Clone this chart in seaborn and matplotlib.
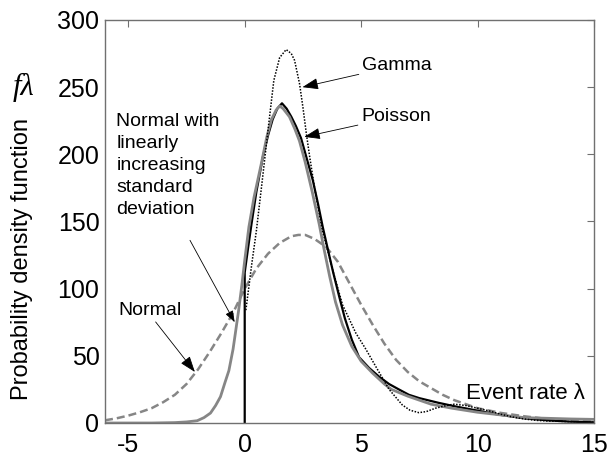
import matplotlib

matplotlib.use("Agg")
import matplotlib.pyplot as plt
import seaborn as sns

# values
NORMAL_X = [-6, -5.5, -5, -4.5, -4, -3.5, -3, -2.5, -2, -1.5, -1, -0.5, 0, 0.5, 1, 1.5, 2, 2.3,
            2.6, 3, 3.5, 4, 4.5, 5, 5.5, 6, 6.5, 7, 7.5, 8, 8.5, 9, 9.5, 10, 11, 12, 13, 14, 15]
NORMAL_Y = [2, 3.5, 5.5, 8, 11, 15.5, 21, 29, 40, 53, 67, 82, 100, 115, 126, 134, 139, 140,
            140, 137, 131, 120, 104, 88, 73, 59, 47, 38, 31, 26, 21, 17, 14, 11, 7.5, 5, 3, 2, 1.5]

NORMAL_LIN_X = [-6, -4, -3, -2.5, -2.04, -1.75, -1.47, -1.25, -1.04, -0.85, -0.68, -0.5, -0.4, -0.26,
                -0.12, 0, 0.18, 0.4, 0.7, 0.95, 1.15, 1.35, 1.5, 1.65, 1.92, 2.15, 2.35, 2.6, 2.9,
                3.2, 3.4, 3.65, 3.9, 4.2, 4.6, 5, 5.5, 6, 6.3, 7, 7.5, 8, 8.9, 10, 11, 12, 13, 14, 15]
NORMAL_LIN_Y = [0, 0, 0.3, 0.8, 1.7, 4, 7.4, 13, 19.6, 30, 39, 55, 67, 84,
                103, 121, 146, 168, 192, 213, 226, 233, 236, 234, 228, 219, 210, 194, 172,
                148, 130, 109, 90, 73, 57, 46, 37, 29, 25, 20, 17, 14, 11, 8, 6, 4, 3.5, 3, 2.7]

POISSON_X = [0, 0, 0.15, 0.29, 0.5, 0.78, 1.0, 1.2, 1.4, 1.6, 1.8, 2.0, 2.2, 2.42, 2.63, 2.92, 3.15,
             3.35, 3.6, 3.8, 4.06, 4.3, 4.6, 4.91, 5.34, 5.77, 6.2, 6.62, 7.05, 7.5, 8.33, 9.0, 9.76,
             10.5, 11, 12, 13, 14, 15]
POISSON_Y = [0, 112, 131, 148, 172, 198, 214, 226, 234, 238, 234, 228, 221, 212, 199, 181, 163,
             146, 127, 112, 94, 78, 62, 49, 41, 34.5, 29, 25, 21, 18.5, 15, 12.5, 10,
             7.5, 6, 3.5, 2, 1, 0.5]

GAMMA_X = [0.05, 0.3, 0.5, 0.75, 1.0, 1.25, 1.5, 1.78, 2.0, 2.14, 2.35, 2.5, 2.65, 2.8, 3.0, 3.33,
           3.76, 4.2, 4.77, 5.2, 5.63, 6.2, 6.77, 7.1, 7.48, 7.8, 8.19, 8.76, 9.0, 9.5, 10, 10.5,
           11, 11.5, 12, 12.5, 13, 14, 15]
GAMMA_Y = [84, 118, 143, 180, 218, 255, 272, 278, 275, 270, 253, 235, 215, 197, 175, 144,
           115, 88, 67, 55, 42, 25, 13.4, 9.5, 7.7, 8.5, 11, 13.4, 14, 13, 11, 9,
           6.5, 4.5, 3, 2, 1.5, 1, 0.5]

X_TICKS = [-5, 0, 5, 10, 15]
Y_TICKS = [0, 50, 100, 150, 200, 250, 300]

GRAY = "#868686"
FRAME = "#707070"

sns.set_style("white")
plt.rcParams["font.family"] = ["Liberation Sans", "DejaVu Sans"]
plt.rcParams["text.color"] = "black"
plt.rcParams["xtick.labelcolor"] = "black"
plt.rcParams["ytick.labelcolor"] = "black"
plt.rcParams["axes.unicode_minus"] = False

fig = plt.figure(figsize=(6.08, 4.57), dpi=100)
ax = fig.add_axes([105 / 608, 34 / 457, 489 / 608, 403 / 457])

sns.lineplot(x=NORMAL_X, y=NORMAL_Y, ax=ax, color=GRAY, linewidth=1.8,
             linestyle=(0, (3.2, 1.6)), estimator=None, sort=False)
sns.lineplot(x=POISSON_X, y=POISSON_Y, ax=ax, color="black", linewidth=1.6,
             estimator=None, sort=False)
sns.lineplot(x=NORMAL_LIN_X, y=NORMAL_LIN_Y, ax=ax, color=GRAY, linewidth=2.0,
             estimator=None, sort=False)
sns.lineplot(x=GAMMA_X, y=GAMMA_Y, ax=ax, color="black", linewidth=1.1,
             linestyle=(0, (1, 1)), estimator=None, sort=False)

ax.set_xlim(-6, 15)
ax.set_ylim(0, 300)
ax.set_xticks(X_TICKS)
ax.set_yticks(Y_TICKS)
ax.set_xlabel("")
ax.set_ylabel("")
ax.tick_params(direction="in", length=5, width=0.8, color=FRAME, labelsize=18,
               top=True, right=True)
ax.tick_params(axis="x", pad=7)
ax.tick_params(axis="y", pad=4)
for spine in ax.spines.values():
    spine.set_color(FRAME)
    spine.set_linewidth(1.0)

arrow = dict(arrowstyle="-|>,head_length=0.7,head_width=0.25", color="black", lw=0.6,
             shrinkA=0, shrinkB=0)
ax.annotate("Gamma", xy=(2.48, 250), xytext=(5.04, 266), fontsize=14,
            va="center", ha="left", arrowprops=arrow)
ax.annotate("Poisson", xy=(2.56, 213), xytext=(5.0, 228), fontsize=14,
            va="center", ha="left", arrowprops=arrow)
ax.text(-5.51, 231, "Normal with\nlinearly\nincreasing\nstandard\ndeviation", fontsize=14,
        va="top", ha="left", linespacing=1.4)
ax.annotate("", xy=(-0.43, 75), xytext=(-2.35, 136), arrowprops=arrow)
ax.annotate("Normal", xy=(-2.14, 38), xytext=(-5.43, 84), fontsize=14,
            va="center", ha="left", arrowprops=dict(arrow, relpos=(0.55, 0)))
ax.text(14.6, 22, "Event rate λ", fontsize=16, va="center", ha="right")

fig.text(22 / 608, 1 - 259 / 457, "Probability density function", rotation=90,
         fontsize=17, ha="center", va="center")
fig.text(24 / 608, 1 - 87 / 457, "fλ", fontsize=22, style="italic",
         family=["Liberation Serif", "DejaVu Serif"], ha="center", va="center")

fig.savefig("out.png", dpi=100)
